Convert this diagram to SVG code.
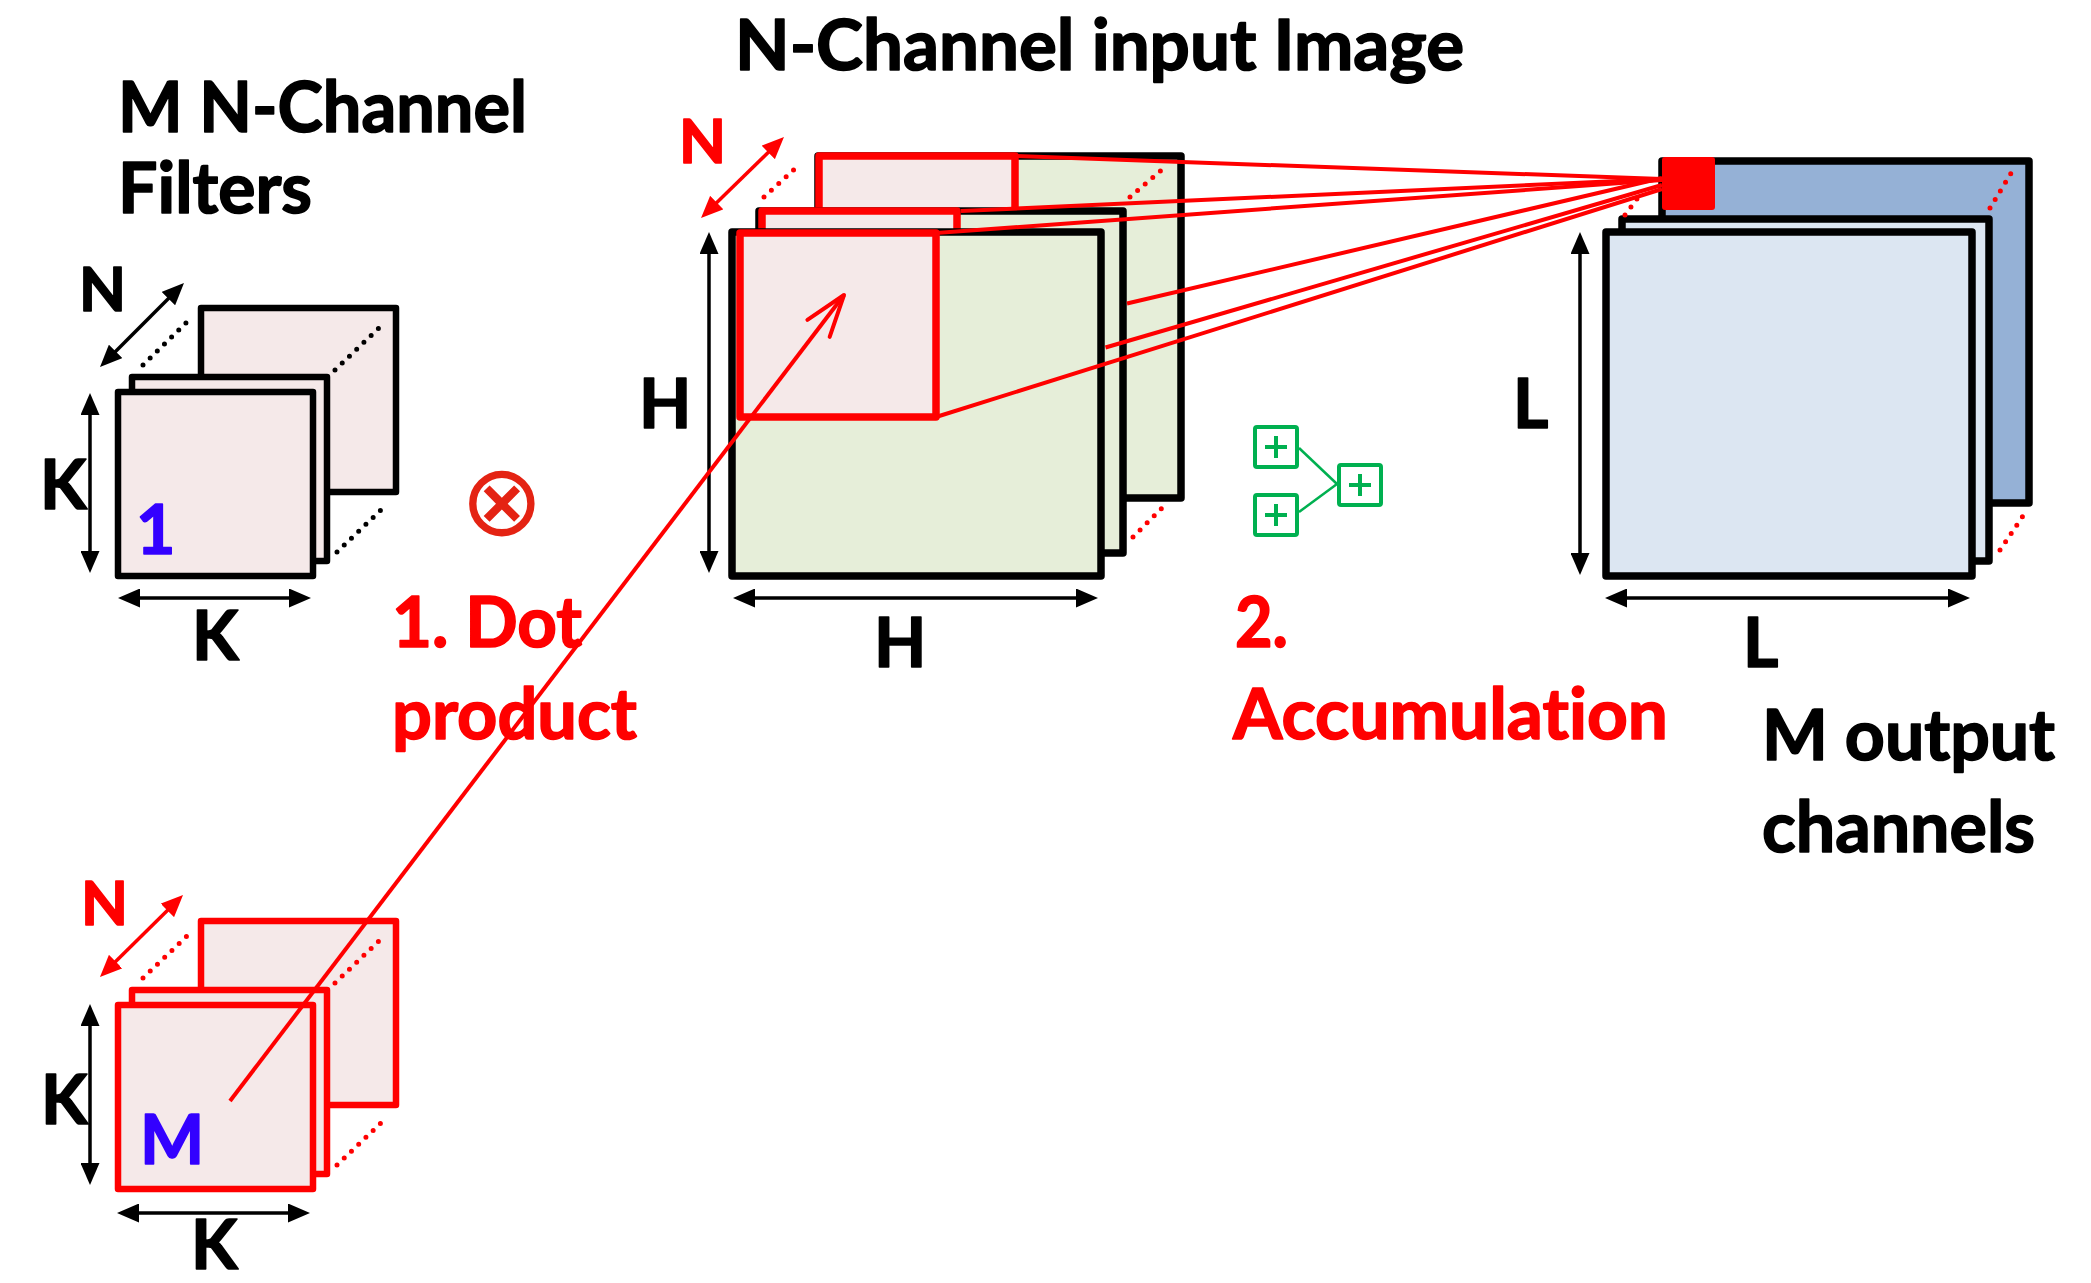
<svg xmlns="http://www.w3.org/2000/svg" width="2091" height="1283" viewBox="0 0 2091 1283">
<style>
text{font-family:Lato,"Open Sans","Liberation Sans",sans-serif;font-weight:700;font-variant-ligatures:none;font-feature-settings:"liga" 0,"dlig" 0;stroke-width:1.6;stroke-linejoin:round}
.h{font-size:71px;fill:#000;stroke:#000}
.hr{font-size:71px;fill:#FF0000;stroke:#FF0000}
.lb{font-size:68px;fill:#000;stroke:#000}
.ln{font-size:61px;fill:#000;stroke:#000}
.red{fill:#FF0000;stroke:#FF0000}
.blue{fill:#3300FF;stroke:#3300FF}
.pk{fill:#F5E9E9}
.gr{fill:#E6EED9}
.lbl{fill:#DCE6F2}
.mbl{fill:#95B1D6}
.s1{stroke:#000;stroke-width:6.5;stroke-linejoin:round}
.s1r{stroke:#FF0000;stroke-width:6.5;stroke-linejoin:round}
.s2{stroke:#000;stroke-width:7.5;stroke-linejoin:round}
.s2r{stroke:#FF0000;stroke-width:7.5;stroke-linejoin:round}
.dot{fill:none;stroke:#000;stroke-width:5;stroke-linecap:round;stroke-dasharray:0 10}
.dotr{fill:none;stroke:#FF0000;stroke-width:5;stroke-linecap:round;stroke-dasharray:0 10}
.arr{fill:none;stroke:#000;stroke-width:3.5;marker-start:url(#ab);marker-end:url(#ab)}
.arrr{fill:none;stroke:#FF0000;stroke-width:3.5;marker-start:url(#ar);marker-end:url(#ar)}
.ray{fill:none;stroke:#FF0000;stroke-width:4}
.add rect{fill:#fff;stroke:#00B050;stroke-width:4}
.add path{fill:none;stroke:#00B050;stroke-width:4}
.add line{stroke:#00B050;stroke-width:2.5}
</style>
<defs>
<marker id="ab" viewBox="0 0 22 19" refX="11" refY="9.5" markerWidth="22" markerHeight="19" markerUnits="userSpaceOnUse" orient="auto-start-reverse"><path d="M0,0 L22,9.5 L0,19 z" fill="#000"/></marker>
<marker id="ar" viewBox="0 0 22 19" refX="11" refY="9.5" markerWidth="22" markerHeight="19" markerUnits="userSpaceOnUse" orient="auto-start-reverse"><path d="M0,0 L22,9.5 L0,19 z" fill="#FF0000"/></marker>
<marker id="open" viewBox="-46 -18 50 36" refX="0" refY="0" markerWidth="50" markerHeight="36" markerUnits="userSpaceOnUse" orient="auto" overflow="visible"><path d="M-42,-14 L0,0 L-42,14" fill="none" stroke="#FF0000" stroke-width="4" stroke-linecap="round" stroke-linejoin="round"/></marker>
</defs>
<rect width="2091" height="1283" fill="#fff"/>

<g id="title-filters">
<text class="h" x="118" y="132" textLength="409" lengthAdjust="spacingAndGlyphs">M N-Channel</text>
<text class="h" x="118" y="213" textLength="194" lengthAdjust="spacingAndGlyphs">Filters</text>
</g>
<g id="title-input">
<text class="h" x="735" y="70" textLength="729" lengthAdjust="spacingAndGlyphs">N-Channel input Image</text>
</g>

<g id="filter-1">
<rect class="pk s1" x="201" y="308" width="195" height="184"/>
<rect class="pk s1" x="132" y="377" width="195" height="184"/>
<rect class="pk s1" x="118" y="392" width="195" height="184"/>
<line class="dot" x1="143" y1="365" x2="187" y2="322"/>
<line class="dot" x1="335" y1="370" x2="380" y2="327"/>
<line class="dot" x1="337" y1="552" x2="382" y2="509"/>
<text class="lb blue" x="136" y="554">1</text>
<line class="arr" x1="107.8" y1="359.2" x2="176.2" y2="290.8"/>
<line class="arr" x1="90" y1="404" x2="90" y2="562"/>
<line class="arr" x1="129" y1="598" x2="300" y2="598"/>
<text class="ln" x="79" y="311">N</text>
<text class="lb" x="40" y="509">K</text>
<text class="lb" x="192" y="660">K</text>
</g>

<g id="filter-M">
<rect class="pk s1r" x="201" y="921" width="195" height="184"/>
<rect class="pk s1r" x="132" y="990" width="195" height="184"/>
<rect class="pk s1r" x="118" y="1005" width="195" height="184"/>
<line class="dotr" x1="143" y1="978" x2="187" y2="936"/>
<line class="dotr" x1="335" y1="983" x2="380" y2="940"/>
<line class="dotr" x1="337" y1="1165" x2="382" y2="1122"/>
<text class="lb blue" x="140" y="1164">M</text>
<line class="arrr" x1="107.8" y1="969.3" x2="175.2" y2="902.7"/>
<line class="arr" x1="90" y1="1015" x2="90" y2="1174"/>
<line class="arr" x1="128" y1="1213" x2="299" y2="1213"/>
<text class="ln red" x="81" y="925">N</text>
<text class="lb" x="41" y="1124">K</text>
<text class="lb" x="191" y="1269">K</text>
</g>

<g id="otimes">
<text x="502" y="535" text-anchor="middle" style="font-family:'DejaVu Sans',sans-serif;font-weight:400;font-size:100px;fill:#E42313;stroke:none">⊗</text>
</g>

<g id="label-dot">
<text class="hr" x="392" y="647" textLength="190" lengthAdjust="spacingAndGlyphs">1. Dot</text>
<text class="hr" x="392" y="739" textLength="245" lengthAdjust="spacingAndGlyphs">product</text>
</g>

<g id="input-image">
<rect class="gr s2" x="818" y="156" width="363" height="342"/>
<rect class="pk s2r" x="819" y="156" width="196" height="184"/>
<rect class="gr s2" x="759" y="211" width="364" height="342"/>
<rect class="pk s2r" x="762" y="211" width="195" height="184"/>
<rect class="gr s2" x="732" y="232" width="369" height="344"/>
<rect class="pk s2r" x="740" y="233" width="196" height="184"/>
<line class="dotr" x1="764" y1="197" x2="799" y2="165"/>
<line class="dotr" x1="1130" y1="197" x2="1165" y2="167"/>
<line class="dotr" x1="1133" y1="537" x2="1167" y2="503"/>
<line class="arrr" x1="708.9" y1="210.3" x2="776.1" y2="144.7"/>
<line class="arr" x1="709" y1="243" x2="709" y2="562"/>
<line class="arr" x1="744" y1="598" x2="1087" y2="598"/>
<text class="ln red" x="679" y="163">N</text>
<text class="lb" x="639" y="428">H</text>
<text class="lb" x="874" y="667">H</text>
</g>

<g id="adder-tree" class="add">
<line x1="1299" y1="448" x2="1337" y2="484"/>
<line x1="1299" y1="512" x2="1337" y2="484"/>
<rect x="1255" y="427" width="42" height="40" rx="2"/>
<rect x="1255" y="495" width="42" height="40" rx="2"/>
<rect x="1339" y="465" width="42" height="40" rx="2"/>
<path d="M1265,447 H1287 M1276,436 V458"/>
<path d="M1265,515 H1287 M1276,504 V526"/>
<path d="M1349,485 H1371 M1360,474 V496"/>
</g>

<g id="label-acc">
<text class="hr" x="1235" y="647" textLength="53" lengthAdjust="spacingAndGlyphs">2.</text>
<text class="hr" x="1233" y="739" textLength="435" lengthAdjust="spacingAndGlyphs">Accumulation</text>
</g>

<g id="output-channels">
<rect class="mbl s2" x="1662" y="161" width="367" height="342"/>
<rect class="lbl s2" x="1622" y="219" width="367" height="342"/>
<rect class="lbl s2" x="1606" y="232" width="366" height="344"/>
<rect x="1662" y="157" width="53" height="53" rx="3" fill="#FF0000"/>
<line class="dotr" x1="1625" y1="215" x2="1642" y2="192"/>
<line class="dotr" x1="1990" y1="208" x2="2013" y2="170"/>
<line class="dotr" x1="2000" y1="550" x2="2027" y2="510"/>
<line class="arr" x1="1580" y1="243" x2="1580" y2="564"/>
<line class="arr" x1="1616" y1="598" x2="1959" y2="598"/>
<text class="lb" x="1513" y="428">L</text>
<text class="lb" x="1743" y="667">L</text>
</g>

<g id="label-out">
<text class="h" x="1762" y="760" textLength="293" lengthAdjust="spacingAndGlyphs">M output</text>
<text class="h" x="1762" y="852" textLength="273" lengthAdjust="spacingAndGlyphs">channels</text>
</g>

<g id="connectors">
<line class="ray" x1="1015" y1="156" x2="1662" y2="179"/>
<line class="ray" x1="961" y1="211" x2="1662" y2="179"/>
<line class="ray" x1="936" y1="233" x2="1662" y2="180"/>
<line class="ray" x1="1127" y1="303.5" x2="1662" y2="178"/>
<line class="ray" x1="1105.5" y1="347.5" x2="1662" y2="185"/>
<line class="ray" x1="936" y1="417" x2="1662" y2="189"/>
<line class="ray" x1="230" y1="1101" x2="844" y2="295" marker-end="url(#open)"/>
</g>
</svg>
